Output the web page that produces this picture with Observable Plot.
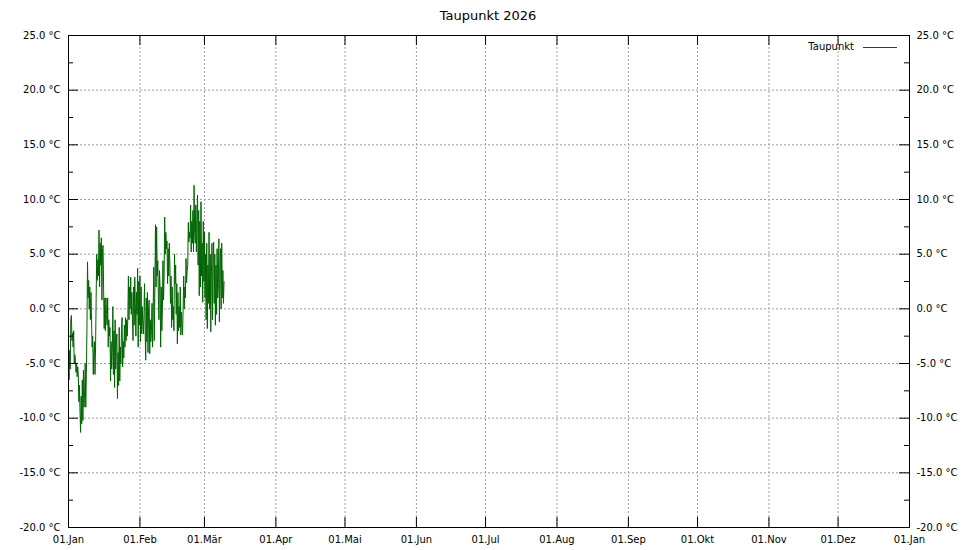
<!DOCTYPE html>
<html>
<head>
<meta charset="utf-8">
<script src="https://cdn.jsdelivr.net/npm/d3@7"></script>
<script src="https://cdn.jsdelivr.net/npm/@observablehq/plot@0.6"></script>
<style>
  body { margin: 0; background: #fff; font-family: "DejaVu Sans", sans-serif; }
  #wrap { position: relative; width: 980px; height: 550px; overflow: hidden; }
  #title { position: absolute; left: 0; top: 8px; width: 976px; text-align: center; font-size: 13px; line-height: 16px; color: #000; }
  #chart { position: absolute; left: 0; top: 28px; }
  #legend-text { position: absolute; right: 126px; top: 41px; font-size: 10px; line-height: 12px; color: #000; }
  #legend-line { position: absolute; left: 863px; top: 47px; width: 34px; height: 0; border-top: 1px solid #006400; }
</style>
</head>
<body>
<div id="wrap">
  <div id="title"></div>
  <div id="chart"></div>
  <div id="legend-text"></div>
  <div id="legend-line"></div>
</div>
<script>
// ---- data ----
const chartTitle = "Taupunkt 2026";
const seriesName = "Taupunkt";
const seriesStart = "2026-01-01T00:00:00Z";
const stepHours = 6;
// dew point (°C), one value every 6 hours from 01.01.2026
const taupunkt = [
  -4.0, -6.5, -3.8, -5.5,
  -1.0, -0.6, -2.9, -2.2,
  -3.5, -2.0, -5.0, -4.2,
  -4.7, -5.8, -5.0, -6.2,
  -5.3, -6.0, -8.5, -7.0,
  -9.5, -11.3, -8.0, -10.5,
  -6.5, -10.2, -5.6, -9.0,
  -7.5, -5.0, -9.0, -6.0,
  -2.0, 4.3, 1.0, 2.6,
  0.0, 2.0, -1.0, 1.5,
  -1.0, -3.5, -2.5, -6.0,
  -4.0, -3.0, -6.0, -3.5,
  1.0, 5.0, 2.6, 4.5,
  3.0, 7.2, 2.0, 6.0,
  4.0, 6.5, 0.8, 5.5,
  5.8, 1.7, -1.8, 1.0,
  -2.0, 1.0, -0.5, -1.5,
  1.0, -3.5, -1.0, -2.5,
  -1.7, -6.6, -3.0, -5.5,
  -4.0, 0.2, -6.0, -2.0,
  -7.2, -1.0, -5.5, -3.0,
  -2.3, -8.2, -4.0, -7.0,
  -1.7, -6.6, -3.5, -5.0,
  -2.0, -0.8, -5.3, -3.0,
  -4.5, -1.5, -3.5, -0.8,
  -2.9, -1.0, -2.5, -0.8,
  3.0, -1.0, 2.0, 0.0,
  2.9, -0.5, 1.5, -1.0,
  -2.9, 2.0, -1.5, 2.9,
  0.5, -2.5, 1.5, -0.5,
  3.7, -3.5, 2.5, -1.5,
  3.0, -3.0, 2.0, -2.3,
  0.2, -1.5, -2.3, -0.5,
  2.3, -2.0, -4.7, 1.0,
  -3.0, 1.5, -4.0, 0.0,
  0.8, -4.1, -1.0, -3.0,
  -2.0, 0.5, -3.5, 0.0,
  3.8, -2.9, 2.0, 7.7,
  2.0, 7.5, 3.0, 4.4,
  1.0, -1.0, 3.5, 2.0,
  -3.5, 2.0, -2.0, 0.0,
  4.4, 0.8, 3.0, 8.4,
  5.0, 7.0, 5.5, 6.2,
  2.3, 5.5, 3.0, 6.0,
  4.1, 0.5, 3.0, -1.7,
  2.0, -1.0, 0.2, -2.0,
  5.0, 2.3, 4.0, -0.5,
  2.3, -3.2, 1.5, -2.0,
  0.2, -1.7, 2.0, -2.4,
  -0.3, -1.5, -2.4, 0.0,
  3.0, 0.0, 2.0, 1.0,
  4.6, 2.4, 3.5, 4.0,
  7.9, 6.1, 7.0, 6.5,
  9.5, 5.2, 8.0, 6.0,
  9.0, 5.2, 11.3, 7.0,
  6.0, 9.5, 5.2, 8.5,
  10.4, 4.0, 9.0, 1.2,
  8.0, 2.0, 9.8, 3.0,
  6.0, 0.6, 8.0, 2.5,
  7.0, 1.0, 5.0, -1.0,
  6.0, -1.8, 4.0, 0.5,
  7.0, 0.0, 5.0, -2.1,
  3.0, 6.0, -1.0, 4.5,
  6.1, 0.5, 5.0, -1.5,
  4.0, -0.5, 5.5, 1.0,
  2.0, 6.4, -1.2, 4.0,
  5.5, 0.0, 6.0, 1.0,
  3.5, 0.5, 2.5
];
const xDomain = ["2026-01-01", "2027-01-01"];
const monthTicks = ["2026-01-01","2026-02-01","2026-03-01","2026-04-01","2026-05-01","2026-06-01",
  "2026-07-01","2026-08-01","2026-09-01","2026-10-01","2026-11-01","2026-12-01","2027-01-01"];
const monthLabels = ["01.Jan","01.Feb","01.Mär","01.Apr","01.Mai","01.Jun","01.Jul",
  "01.Aug","01.Sep","01.Okt","01.Nov","01.Dez","01.Jan"];
const yDomain = [-20, 25];
const yMajor = [-20, -15, -10, -5, 0, 5, 10, 15, 20, 25];
const yMinor = [-17.5, -12.5, -7.5, -2.5, 2.5, 7.5, 12.5, 17.5, 22.5];

// ---- build ----
const t0 = new Date(seriesStart).getTime();
const rows = taupunkt.map((v, i) => ({date: new Date(t0 + i * stepHours * 3600e3), value: v}));
const months = monthTicks.map(s => new Date(s + "T00:00:00Z"));
const labelOf = new Map(months.map((d, i) => [+d, monthLabels[i]]));

const W = 980, H = 522, mL = 68, mR = 71, mT = 7, mB = 23;
const innerW = W - mL - mR, innerH = H - mT - mB;
const majorLen = 10, minorLen = 5;
const gridStyle = {stroke: "#a0a0a0", strokeOpacity: 1, strokeWidth: 1, strokeDasharray: "2,2"};
const fmtY = d => d.toFixed(1) + " °C";

document.getElementById("title").textContent = chartTitle;
document.getElementById("legend-text").textContent = seriesName;

const chart = Plot.plot({
  width: W, height: H,
  marginLeft: mL, marginRight: mR, marginTop: mT, marginBottom: mB,
  style: {fontFamily: "DejaVu Sans, sans-serif", fontSize: "10px", background: "white", color: "black"},
  x: {type: "utc", domain: xDomain.map(s => new Date(s + "T00:00:00Z"))},
  y: {domain: yDomain},
  marks: [
    Plot.gridY(yMajor, gridStyle),
    Plot.gridX(months, gridStyle),
    Plot.line(rows, {x: "date", y: "value", stroke: "#006400", strokeWidth: 1}),
    // inward tick marks
    Plot.tickY(yMajor, {y: d => d, stroke: "black", insetRight: innerW - majorLen}),
    Plot.tickY(yMajor, {y: d => d, stroke: "black", insetLeft: innerW - majorLen}),
    Plot.tickY(yMinor, {y: d => d, stroke: "black", insetRight: innerW - minorLen}),
    Plot.tickY(yMinor, {y: d => d, stroke: "black", insetLeft: innerW - minorLen}),
    Plot.tickX(months, {x: d => d, stroke: "black", insetTop: innerH - majorLen}),
    Plot.tickX(months, {x: d => d, stroke: "black", insetBottom: innerH - majorLen}),
    Plot.frame({stroke: "black", strokeWidth: 1}),
    Plot.axisY(yMajor, {anchor: "left", tickSize: 0, tickPadding: 8, tickFormat: fmtY, label: null}),
    Plot.axisY(yMajor, {anchor: "right", tickSize: 0, tickPadding: 7, tickFormat: fmtY, label: null}),
    Plot.axisX(months, {anchor: "bottom", tickSize: 0, tickPadding: 8, tickFormat: d => labelOf.get(+d), label: null})
  ]
});
document.getElementById("chart").appendChild(chart);
</script>
</body>
</html>
